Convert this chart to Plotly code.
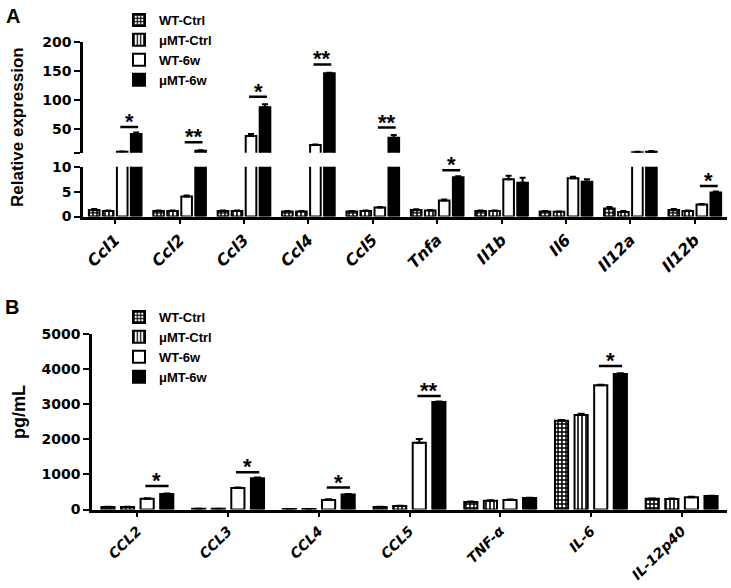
import plotly.graph_objects as go

# ---------------- data ----------------
groups = ["WT-Ctrl", "μMT-Ctrl", "WT-6w", "μMT-6w"]

genes = ["Ccl1", "Ccl2", "Ccl3", "Ccl4", "Ccl5", "Tnfa", "Il1b", "Il6", "Il12a", "Il12b"]
wt_ctrl_A = [1.3, 1.1, 1.1, 1.0, 1.0, 1.3, 1.1, 1.0, 1.6, 1.3]
umt_ctrl_A = [1.1, 1.1, 1.1, 1.0, 1.1, 1.2, 1.1, 0.95, 0.9, 1.1]
wt_6w_A = [11.5, 4.0, 38.5, 23.0, 1.8, 3.2, 7.5, 7.7, 10.8, 2.4]
umt_6w_A = [42.0, 13.4, 88.0, 146.0, 35.5, 7.9, 6.8, 7.0, 11.7, 4.8]
wt_ctrl_A_err = [0.2, 0.1, 0.1, 0.1, 0.1, 0.15, 0.1, 0.1, 0.3, 0.2]
umt_ctrl_A_err = [0.1, 0.1, 0.1, 0.1, 0.1, 0.1, 0.1, 0.05, 0.2, 0.1]
wt_6w_A_err = [0.5, 0.2, 3.5, 1.2, 0.1, 0.2, 0.7, 0.3, 0.8, 0.1]
umt_6w_A_err = [2.5, 0.8, 5.0, 1.0, 5.0, 0.2, 1.0, 0.5, 1.3, 0.2]
zeros_A = [0, 0, 0, 0, 0, 0, 0, 0, 0, 0]

sig_A_genes = ["Ccl1", "Ccl2", "Ccl3", "Ccl4", "Ccl5", "Tnfa", "Il12b"]
sig_A_y = [54, 27.7, 105.6, 161, 53, 9.3, 6.1]
sig_A_text = ["*", "**", "*", "**", "**", "*", "*"]

cytokines = ["CCL2", "CCL3", "CCL4", "CCL5", "TNF-α", "IL-6", "IL-12p40"]
wt_ctrl_B = [70, 20, 15, 70, 215, 2530, 305]
umt_ctrl_B = [70, 20, 15, 100, 250, 2690, 300]
wt_6w_B = [305, 610, 270, 1900, 270, 3540, 350]
umt_6w_B = [440, 890, 425, 3060, 325, 3860, 385]
wt_ctrl_B_err = [5, 2, 2, 5, 15, 20, 10]
umt_ctrl_B_err = [5, 2, 2, 5, 15, 40, 10]
wt_6w_B_err = [15, 20, 20, 110, 15, 15, 10]
umt_6w_B_err = [15, 25, 15, 20, 10, 20, 10]
zeros_B = [0, 0, 0, 0, 0, 0, 0]

sig_B_genes = ["CCL2", "CCL3", "CCL4", "CCL5", "IL-6"]
sig_B_y = [670, 1060, 625, 3235, 4090]
sig_B_text = ["*", "*", "*", "**", "*"]

# ---------------- styling ----------------
W, H = 731, 588
FONT = "Liberation Sans, Arial, sans-serif"
TICKFONT = "DejaVu Sans, Verdana, sans-serif"
BREAK = 10  # lower segment 0-10, upper segment 10-200

def pattern(k):
    if k == 0:
        return dict(marker_color="white",
                    pattern=dict(shape="+", fgcolor="black", bgcolor="white", size=4, solidity=0.6, fillmode="replace"))
    if k == 1:
        return dict(marker_color="white",
                    pattern=dict(shape="|", fgcolor="black", bgcolor="white", size=4, solidity=0.4, fillmode="replace"))
    if k == 2:
        return dict(marker_color="white", pattern=None)
    return dict(marker_color="black", pattern=None)

fig = go.Figure()

# ---------------- panel A ----------------
off_A = [-0.326, -0.109, 0.109, 0.326]
wid_A = 0.165
vals_A = [wt_ctrl_A, umt_ctrl_A, wt_6w_A, umt_6w_A]
errs_A = [wt_ctrl_A_err, umt_ctrl_A_err, wt_6w_A_err, umt_6w_A_err]

for k in range(4):
    st = pattern(k)
    marker = dict(color=st["marker_color"], line=dict(color="black", width=2))
    if st["pattern"]:
        marker["pattern"] = st["pattern"]
    for yax in ["y", "y2"]:
        yv = vals_A[k] if yax == "y" else [v if v > BREAK else None for v in vals_A[k]]
        fig.add_trace(go.Bar(
            x=genes, y=yv, name=groups[k], xaxis="x", yaxis=yax,
            width=wid_A, offset=off_A[k] - wid_A / 2, marker=marker,
            error_y=dict(type="data", array=errs_A[k], arrayminus=zeros_A, symmetric=False,
                         color="black", thickness=2, width=3),
            legend="legend", showlegend=(yax == "y"), legendgroup="A" + groups[k],
            hoverinfo="skip"))

# ---------------- panel B ----------------
off_B = [-0.324, -0.108, 0.108, 0.324]
wid_B = 0.145
vals_B = [wt_ctrl_B, umt_ctrl_B, wt_6w_B, umt_6w_B]
errs_B = [wt_ctrl_B_err, umt_ctrl_B_err, wt_6w_B_err, umt_6w_B_err]
for k in range(4):
    st = pattern(k)
    marker = dict(color=st["marker_color"], line=dict(color="black", width=2))
    if st["pattern"]:
        marker["pattern"] = st["pattern"]
    fig.add_trace(go.Bar(
        x=cytokines, y=vals_B[k], name=groups[k], xaxis="x2", yaxis="y3",
        width=wid_B, offset=off_B[k] - wid_B / 2, marker=marker,
        error_y=dict(type="data", array=errs_B[k], arrayminus=zeros_B, symmetric=False,
                     color="black", thickness=2, width=3.5),
        legend="legend2", legendgroup="B" + groups[k], hoverinfo="skip"))

# ---------------- significance marks ----------------
shapes = []
annots = []
for g, yv, t in zip(sig_A_genes, sig_A_y, sig_A_text):
    i = genes.index(g)
    yref = "y" if yv < BREAK else "y2"
    shapes.append(dict(type="line", xref="x", yref=yref, x0=i + off_A[2] - 0.03, x1=i + off_A[3] + 0.03,
                       y0=yv, y1=yv, line=dict(color="black", width=2.5)))
    annots.append(dict(x=i + (off_A[2] + off_A[3]) / 2, y=yv, xref="x", yref=yref, text=t,
                       showarrow=False, yanchor="bottom", yshift=-9,
                       font=dict(family=FONT, size=22, color="black", weight="bold")))
for g, yv, t in zip(sig_B_genes, sig_B_y, sig_B_text):
    i = cytokines.index(g)
    shapes.append(dict(type="line", xref="x2", yref="y3", x0=i + off_B[2] - 0.02, x1=i + off_B[3] + 0.02,
                       y0=yv, y1=yv, line=dict(color="black", width=2.5)))
    annots.append(dict(x=i + (off_B[2] + off_B[3]) / 2, y=yv, xref="x2", yref="y3", text=t,
                       showarrow=False, yanchor="bottom", yshift=-9,
                       font=dict(family=FONT, size=22, color="black", weight="bold")))

# titles / panel letters
annots += [
    dict(x=4 / W, y=1 - 3 / H, xref="paper", yref="paper", text="A", showarrow=False,
         xanchor="left", yanchor="top", font=dict(family=FONT, size=20, color="black", weight="bold")),
    dict(x=3 / W, y=1 - 294 / H, xref="paper", yref="paper", text="B", showarrow=False,
         xanchor="left", yanchor="top", font=dict(family=FONT, size=20, color="black", weight="bold")),
    dict(x=18 / W, y=1 - 127 / H, xref="paper", yref="paper", text="Relative expression", showarrow=False,
         textangle=-90, xanchor="center", yanchor="middle",
         font=dict(family=FONT, size=17, color="black", weight="bold")),
    dict(x=19 / W, y=1 - 412 / H, xref="paper", yref="paper", text="pg/mL", showarrow=False,
         textangle=-90, xanchor="center", yanchor="middle",
         font=dict(family=FONT, size=18, color="black", weight="bold")),
]

tickfont = dict(family=TICKFONT, size=14, color="black", weight="bold")
xtickfont_A = dict(family=TICKFONT, size=16, color="black", weight="bold", style="italic")
xtickfont_B = dict(family=TICKFONT, size=14, color="black", weight="bold", style="italic")
axcommon = dict(showline=True, linecolor="black", linewidth=2.5, ticks="outside", tickwidth=2,
                tickcolor="black", showgrid=False, zeroline=False, automargin=False)

fig.update_layout(
    width=W, height=H, autosize=False,
    margin=dict(l=0, r=0, t=0, b=0, autoexpand=False),
    paper_bgcolor="white", plot_bgcolor="white",
    barmode="overlay",
    font=dict(family=FONT, color="black"),
    xaxis=dict(domain=[83 / W, 727 / W], anchor="y", type="category", range=[-0.5, 9.5],
               tickmode="array", tickvals=genes, ticktext=genes, tickangle=-45, ticklen=5,
               tickfont=xtickfont_A, **axcommon),
    yaxis=dict(domain=[1 - 216.5 / H, 1 - 166.7 / H], anchor="x", range=[0, 10],
               tickvals=[0, 5, 10], ticklen=6, tickfont=tickfont, **axcommon),
    yaxis2=dict(domain=[1 - 152.7 / H, 1 - 41.7 / H], anchor="x", range=[10, 200],
                tickvals=[10, 50, 100, 150, 200], ticktext=["", "50", "100", "150", "200"],
                ticklen=6, tickfont=tickfont, **axcommon),
    xaxis2=dict(domain=[92 / W, 727 / W], anchor="y3", type="category", range=[-0.5, 6.5],
                tickmode="array", tickvals=cytokines, ticktext=cytokines, tickangle=-45, ticklen=5,
                tickfont=xtickfont_B, **axcommon),
    yaxis3=dict(domain=[1 - 509.5 / H, 1 - 334 / H], anchor="x2", range=[0, 5000],
                tickvals=[0, 1000, 2000, 3000, 4000, 5000], ticklen=6, tickfont=tickfont, **axcommon),
    legend=dict(x=119 / W, y=1 - 5 / H, xanchor="left", yanchor="top", bgcolor="rgba(0,0,0,0)",
                font=dict(family=FONT, size=13, color="black", weight="bold"), tracegroupgap=0,
                itemclick=False),
    legend2=dict(x=119 / W, y=1 - 302 / H, xanchor="left", yanchor="top", bgcolor="rgba(0,0,0,0)",
                 font=dict(family=FONT, size=13, color="black", weight="bold"), tracegroupgap=0,
                 itemclick=False),
    shapes=shapes,
    annotations=annots,
    showlegend=True,
)

# the page's default body margin would push the 731x588 figure 8px down/right
fig.write_html("out.html", config={"displayModeBar": False},
               post_script="document.body.style.margin='0px';")
